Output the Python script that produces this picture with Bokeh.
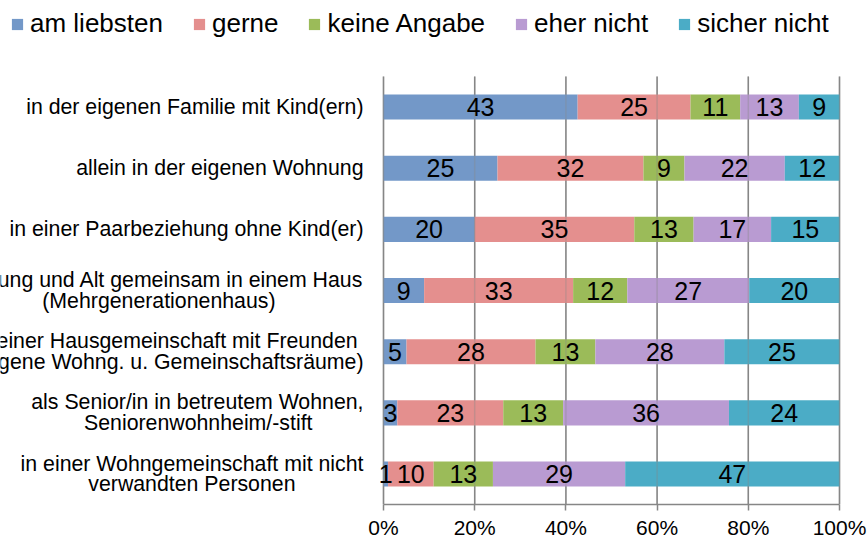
from bokeh.plotting import figure
from bokeh.models import (Range1d, FixedTicker, Legend, LegendItem,
                          ColumnDataSource)
from bokeh.core.properties import value
from bokeh.embed import file_html
from bokeh.resources import INLINE

# ---------------- data ----------------
category_lines = [
    ["in der eigenen Familie mit Kind(ern)"],
    ["allein in der eigenen Wohnung"],
    ["in einer Paarbeziehung ohne Kind(er)"],
    ["Jung und Alt gemeinsam in einem Haus", "(Mehrgenerationenhaus)"],
    ["in einer Hausgemeinschaft  mit Freunden", "(eigene Wohng. u. Gemeinschaftsräume)"],
    ["als Senior/in in betreutem Wohnen,", "Seniorenwohnheim/-stift"],
    ["in einer Wohngemeinschaft mit nicht", "verwandten Personen"],
]
series_names = ["am liebsten", "gerne", "keine Angabe", "eher nicht", "sicher nicht"]
am_liebsten = [43, 25, 20, 9, 5, 3, 1]
gerne = [25, 32, 35, 33, 28, 23, 10]
keine_angabe = [11, 9, 13, 12, 13, 13, 13]
eher_nicht = [13, 22, 17, 27, 28, 36, 29]
sicher_nicht = [9, 12, 15, 20, 25, 24, 47]
x_ticks = [0, 20, 40, 60, 80, 100]
x_tick_labels = ["0%", "20%", "40%", "60%", "80%", "100%"]

# ---------------- layout / styles ----------------
colors = ["#7398C8", "#E48F8E", "#9BBB59", "#B99BD2", "#4BACC6"]
FONT = "Liberation Sans"
GRID = "#868686"
W, H = 867, 541
BOTTOM = 35                    # space for x axis below the frame
FRAME_H = H - BOTTOM
X0_PX, X100_PX = 383, 839      # screen position of 0% and 100%
ROW0_PX, ROW_PX = 107, 61.4    # centre of first row, row pitch
# right edge (screen px) of each category label line
line_right = [[363], [363], [363], [363, 275], [363, 363], [363, 312], [363, 295]]
LINE_GAP_PX = 10.5

series_vals = [am_liebsten, gerne, keine_angabe, eher_nicht, sicher_nicht]
n = len(category_lines)
rows = list(range(n))
totals = [sum(s[i] for s in series_vals) for i in rows]

ppu = (X100_PX - X0_PX) / 100.0
x_start = -X0_PX / ppu
x_end = 100 + (W - X100_PX) / ppu
y_top = -ROW0_PX / ROW_PX
y_bot = y_top + FRAME_H / ROW_PX

p = figure(width=W, height=H, output_backend="svg", toolbar_location=None,
           x_range=Range1d(x_start, x_end), y_range=Range1d(y_bot, y_top),
           y_axis_location=None, min_border=0, min_border_bottom=BOTTOM)
p.outline_line_color = None
p.background_fill_color = "white"
p.xgrid.visible = False
p.ygrid.visible = False

grid_src = ColumnDataSource(dict(x=x_ticks, y0=[-0.5] * len(x_ticks),
                                 y1=[n - 0.5] * len(x_ticks)))
p.segment(x0="x", x1="x", y0="y0", y1="y1", source=grid_src,
          line_color=GRID, line_width=1.5)

# bars
renderers = []
label_srcs = []
cum = [0.0] * n
for name, vals, col in zip(series_names, series_vals, colors):
    left = cum[:]
    right = [cum[i] + vals[i] / totals[i] * 100 for i in rows]
    cum = right
    src = ColumnDataSource(dict(y=rows, left=left, right=right,
                                mid=[(l + r) / 2 for l, r in zip(left, right)],
                                lab=[str(v) for v in vals]))
    r = p.hbar(y="y", left="left", right="right", height=0.41, source=src,
               fill_color=col, line_color=None)
    renderers.append(r)
    label_srcs.append(src)

# gridlines faintly visible through the bars
p.segment(x0="x", x1="x", y0="y0", y1="y1", source=grid_src,
          line_color=GRID, line_width=1.5, line_alpha=0.35)

for src in label_srcs:
    p.text(x="mid", y="y", text="lab", source=src, text_align="center",
           text_baseline="middle", text_font=value(FONT),
           text_font_size="25px", text_color="#000000")

# category labels
cx, cy, ct = [], [], []
dy = LINE_GAP_PX / ROW_PX
for i, lines in enumerate(category_lines):
    offs = [0.0] if len(lines) == 1 else [-dy, dy]
    for txt, xr, off in zip(lines, line_right[i], offs):
        cx.append((xr - X0_PX) / ppu)
        cy.append(i + off)
        ct.append(txt)
p.text(x=cx, y=cy, text=ct, text_align="right", text_baseline="middle",
       text_font=value(FONT), text_font_size="21.3px", text_color="#000000")

# x axis
xa = p.xaxis[0]
xa.bounds = (0, 100)
xa.ticker = FixedTicker(ticks=x_ticks)
xa.major_label_overrides = {t: l for t, l in zip(x_ticks, x_tick_labels)}
xa.axis_line_color = GRID
xa.axis_line_width = 1.5
xa.major_tick_line_color = GRID
xa.major_tick_line_width = 1.5
xa.major_tick_out = 6
xa.major_tick_in = 0
xa.minor_tick_line_color = None
xa.major_label_standoff = 5
xa.major_label_text_font = FONT
xa.major_label_text_font_size = "21px"
xa.major_label_text_color = "#000000"

# legend
legend = Legend(items=[LegendItem(label=nm, renderers=[r])
                       for nm, r in zip(series_names, renderers)],
                orientation="horizontal", location=(10, 465),
                glyph_width=14, glyph_height=14, label_standoff=6, spacing=29,
                padding=0, margin=0, border_line_color=None,
                background_fill_alpha=0, label_text_font=FONT,
                label_text_font_size="26px", label_text_color="#000000")
p.add_layout(legend)

open("out.html", "w").write(file_html(p, INLINE))
